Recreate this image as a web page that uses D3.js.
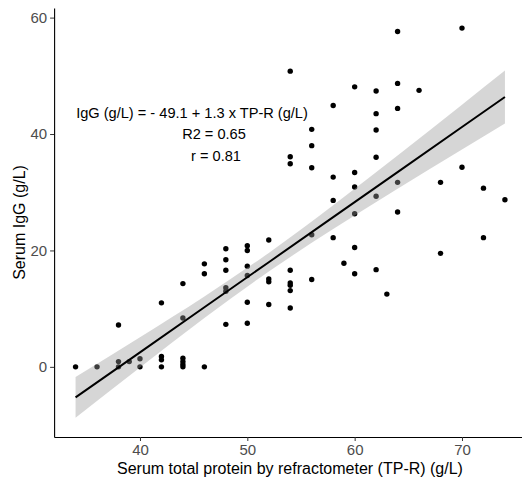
<!DOCTYPE html>
<html>
<head>
<meta charset="utf-8">
<script src="https://cdn.jsdelivr.net/npm/d3@7"></script>
<style>
  body { margin: 0; background: #fff; }
  svg { display: block; }
</style>
</head>
<body>
<div id="chart"></div>
<script>
// total protein by refractometer (g/L) and serum IgG (g/L)
const tpr = [34, 36, 38, 38, 38, 39, 40, 40,
  42, 42, 42, 42, 44, 44, 44, 44, 44, 44,
  46, 46, 46, 48, 48, 48, 48, 48, 48,
  50, 50, 50, 50, 50, 50, 52, 52, 52, 52,
  54, 54, 54, 54, 54, 54, 54, 54,
  56, 56, 56, 56, 56, 58, 58, 58, 58, 59,
  60, 60, 60, 60, 60, 60, 62, 62, 62, 62, 62, 62, 63,
  64, 64, 64, 64, 64, 66, 68, 68, 70, 70, 72, 72, 74];
const igg = [0, 0, 7.2, 0.9, 0, 0.9, 1.4, 0,
  11.0, 1.8, 1.2, 0, 14.3, 8.4, 1.5, 0.9, 0.4, 0,
  17.7, 16.0, 0, 20.3, 18.4, 16.6, 13.6, 13.0, 7.3,
  20.8, 20.0, 17.3, 15.7, 11.1, 7.5, 21.8, 15.1, 14.6, 10.7,
  50.8, 36.1, 34.9, 16.6, 14.4, 14.0, 13.1, 10.1,
  40.8, 38.0, 34.2, 22.7, 15.0, 44.9, 32.6, 28.6, 22.2, 17.8,
  48.1, 33.4, 30.9, 26.3, 20.5, 16.0, 47.4, 43.5, 40.7, 36.0, 29.3, 16.7, 12.5,
  57.6, 48.7, 44.4, 31.7, 26.6, 47.5, 31.7, 19.5, 58.2, 34.3, 30.7, 22.2, 28.7];

// fitted line (as drawn) and its confidence band (half width read at a few x)
const intercept = -49.1, slope = 1.29;
const bandX = [34, 40, 46, 52, 58, 64, 70, 74];
const bandHalf = [3.5, 2.6, 1.85, 1.6, 2.05, 2.85, 3.85, 4.55];

const xTicks = [40, 50, 60, 70];
const yTicks = [0, 20, 40, 60];
const notes = ["IgG (g/L) = - 49.1 + 1.3 x TP-R (g/L)", "R2 = 0.65", "r = 0.81"];

const W = 522, H = 483;
const svg = d3.select("#chart").append("svg")
  .attr("width", W).attr("height", H)
  .style("font-family", "'Liberation Sans', Arial, sans-serif");

const x = d3.scaleLinear().domain([32, 76]).range([54.1, 526.4]);
const y = d3.scaleLinear().domain([-12.05, 61.65]).range([437, 8]);

// points first, ribbon goes on top (like geom_smooth)
svg.append("g").selectAll("circle")
  .data(tpr.map((d, i) => [d, igg[i]]))
  .join("circle")
  .attr("cx", d => x(d[0]))
  .attr("cy", d => y(d[1]))
  .attr("r", 2.7)
  .attr("fill", "#000");

const band = bandX.map((d, i) => ({x: d, fit: intercept + slope * d, h: bandHalf[i]}));
svg.append("path")
  .datum(band)
  .attr("fill", "#999999")
  .attr("fill-opacity", 0.4)
  .attr("d", d3.area()
    .curve(d3.curveMonotoneX)
    .x(d => x(d.x))
    .y0(d => y(d.fit - d.h))
    .y1(d => y(d.fit + d.h)));

svg.append("path")
  .datum(band)
  .attr("fill", "none")
  .attr("stroke", "#000")
  .attr("stroke-width", 2)
  .attr("d", d3.line().x(d => x(d.x)).y(d => y(d.fit)));

// axes
const xAxis = svg.append("g")
  .attr("transform", `translate(0,${y.range()[0]})`)
  .call(d3.axisBottom(x).tickValues(xTicks).tickSize(4).tickPadding(3).tickSizeOuter(0));
const yAxis = svg.append("g")
  .attr("transform", `translate(${x.range()[0]},0)`)
  .call(d3.axisLeft(y).tickValues(yTicks).tickSize(4).tickPadding(3).tickSizeOuter(0));

[xAxis, yAxis].forEach(g => {
  g.select(".domain").attr("stroke", "#000").attr("stroke-width", 1.1);
  g.selectAll(".tick line").attr("stroke", "#333");
  g.selectAll(".tick text")
    .attr("fill", "#4d4d4d")
    .style("font-size", "15px")
    .style("font-family", "'Liberation Sans', Arial, sans-serif");
});

svg.append("text")
  .attr("x", 290).attr("y", 474)
  .attr("text-anchor", "middle")
  .style("font-size", "16px")
  .text("Serum total protein by refractometer (TP-R) (g/L)");

svg.append("text")
  .attr("transform", `translate(25,${(8 + 437) / 2}) rotate(-90)`)
  .attr("text-anchor", "middle")
  .style("font-size", "16px")
  .text("Serum IgG (g/L)");

// annotation lines
const noteX = [192, 214, 216];
const noteY = [118, 139, 161];
svg.append("g").selectAll("text")
  .data(notes)
  .join("text")
  .attr("x", (d, i) => noteX[i])
  .attr("y", (d, i) => noteY[i])
  .attr("text-anchor", "middle")
  .style("font-size", "14.6px")
  .text(d => d);
</script>
</body>
</html>
